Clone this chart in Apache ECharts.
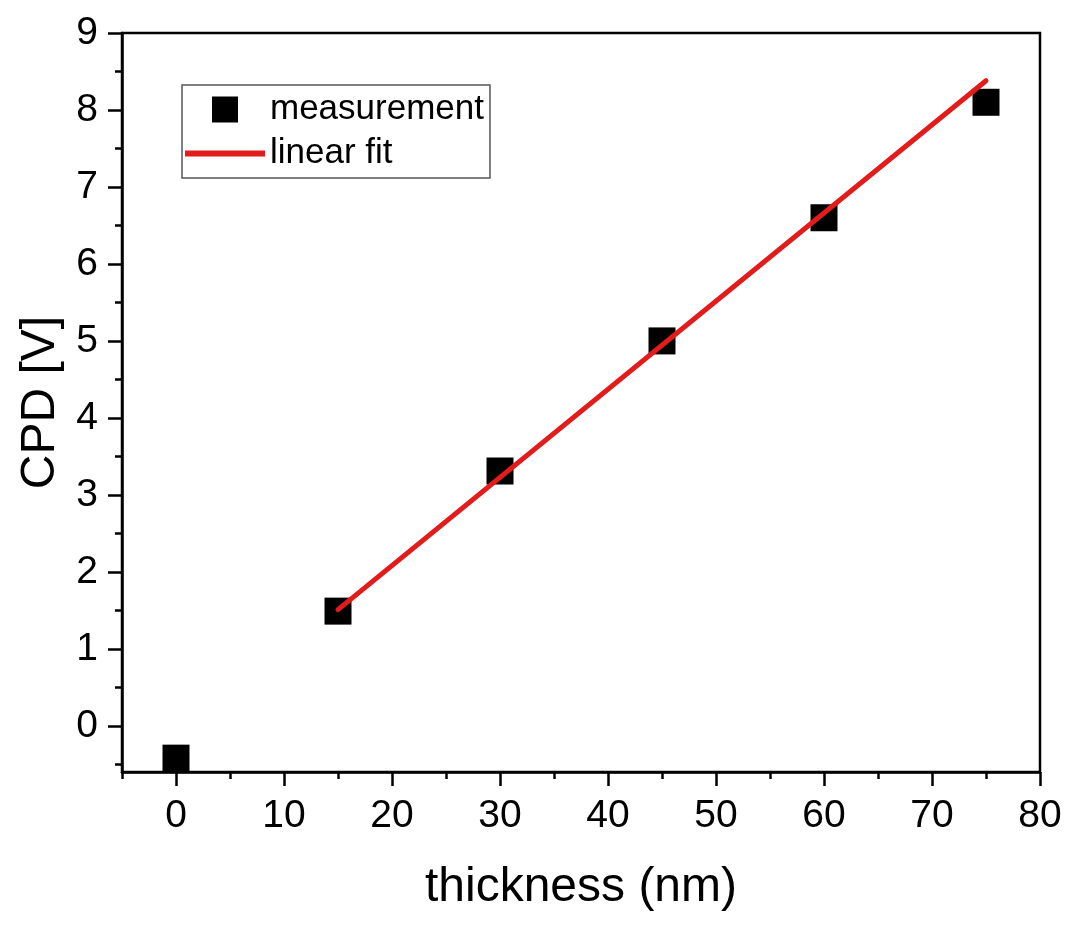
<!DOCTYPE html>
<html>
<head>
<meta charset="utf-8">
<script src="https://cdn.jsdelivr.net/npm/echarts@6/dist/echarts.min.js"></script>
<style>
html,body{margin:0;padding:0;background:#fff;}
#chart{width:1080px;height:944px;}
</style>
</head>
<body>
<div id="chart"></div>
<script>
// Data
const thickness = [0, 15, 30, 45, 60, 75];
const cpd = [-0.42, 1.49, 3.31, 5.0, 6.60, 8.10];
const fitX = [15, 75];
const fitY = [1.51, 8.38];
const xMajorTicks = [0, 10, 20, 30, 40, 50, 60, 70, 80];
const xMinorTicks = [-5, 5, 15, 25, 35, 45, 55, 65, 75];
const yMajorTicks = [0, 1, 2, 3, 4, 5, 6, 7, 8, 9];
const yMinorTicks = [-0.5, 0.5, 1.5, 2.5, 3.5, 4.5, 5.5, 6.5, 7.5, 8.5];

const FONT = 'Liberation Sans, Arial, sans-serif';
const gridRect = {left: 122, top: 33, width: 918, height: 739};

const chart = echarts.init(document.getElementById('chart'), null, {renderer: 'canvas'});
chart.setOption({
  backgroundColor: '#fff',
  animation: false,
  textStyle: {fontFamily: FONT},
  grid: [
    Object.assign({show: true, borderColor: '#000', borderWidth: 2.5, backgroundColor: 'transparent', containLabel: false}, gridRect),
    Object.assign({show: false, containLabel: false}, gridRect)
  ],
  legend: {
    orient: 'vertical',
    left: 182, top: 85,
    padding: [7, 6, 7, 3],
    borderColor: '#555', borderWidth: 1.5,
    backgroundColor: '#fff',
    itemWidth: 80, itemHeight: 26, itemGap: 9,
    textStyle: {fontSize: 35, color: '#000', fontFamily: FONT, lineHeight: 34},
    data: [
      {name: 'measurement', icon: 'path://M0,0L10,0L10,10L0,10Z', itemStyle: {color: '#000', opacity: 1}},
      {name: 'linear fit', icon: 'path://M0,0L80,0L80,6L0,6Z', itemStyle: {color: '#e31b1b', opacity: 1}}
    ]
  },
  xAxis: [
    {
      type: 'value', gridIndex: 0, min: -5, max: 80,
      name: 'thickness (nm)', nameLocation: 'middle', nameGap: 92,
      nameTextStyle: {fontSize: 48, color: '#000', fontFamily: FONT},
      axisLine: {show: true, onZero: false, lineStyle: {color: '#000', width: 2.5}},
      axisTick: {show: true, inside: false, length: 14, customValues: xMajorTicks, lineStyle: {color: '#000', width: 2.5}},
      axisLabel: {show: true, customValues: xMajorTicks, fontSize: 39, color: '#000', margin: 25, fontFamily: FONT},
      splitLine: {show: false}
    },
    {
      type: 'value', gridIndex: 1, min: -5, max: 80, position: 'bottom',
      axisLine: {show: false, onZero: false},
      axisTick: {show: true, inside: false, length: 7, customValues: xMinorTicks, lineStyle: {color: '#000', width: 2.5}},
      axisLabel: {show: false},
      splitLine: {show: false}
    }
  ],
  yAxis: [
    {
      type: 'value', gridIndex: 0, min: -0.6, max: 9,
      name: 'CPD [V]', nameLocation: 'middle', nameGap: 57,
      nameTextStyle: {fontSize: 48, color: '#000', fontFamily: FONT},
      axisLine: {show: true, onZero: false, lineStyle: {color: '#000', width: 2.5}},
      axisTick: {show: true, inside: false, length: 14, customValues: yMajorTicks, lineStyle: {color: '#000', width: 2.5}},
      axisLabel: {show: true, customValues: yMajorTicks, fontSize: 39, color: '#000', margin: 24, fontFamily: FONT},
      splitLine: {show: false}
    },
    {
      type: 'value', gridIndex: 1, min: -0.6, max: 9, position: 'left',
      axisLine: {show: false, onZero: false},
      axisTick: {show: true, inside: false, length: 7, customValues: yMinorTicks, lineStyle: {color: '#000', width: 2.5}},
      axisLabel: {show: false},
      splitLine: {show: false}
    }
  ],
  series: [
    {
      name: 'measurement', type: 'scatter', xAxisIndex: 0, yAxisIndex: 0,
      symbol: 'rect', symbolSize: 27,
      itemStyle: {color: '#000', opacity: 1},
      data: thickness.map((x, i) => [x, cpd[i]]),
      z: 2
    },
    {
      name: 'linear fit', type: 'line', xAxisIndex: 0, yAxisIndex: 0,
      showSymbol: false, symbol: 'none',
      lineStyle: {color: '#e31b1b', width: 5, cap: 'round'},
      itemStyle: {color: '#e31b1b'},
      data: fitX.map((x, i) => [x, fitY[i]]),
      z: 3
    }
  ]
});
</script>
</body>
</html>
